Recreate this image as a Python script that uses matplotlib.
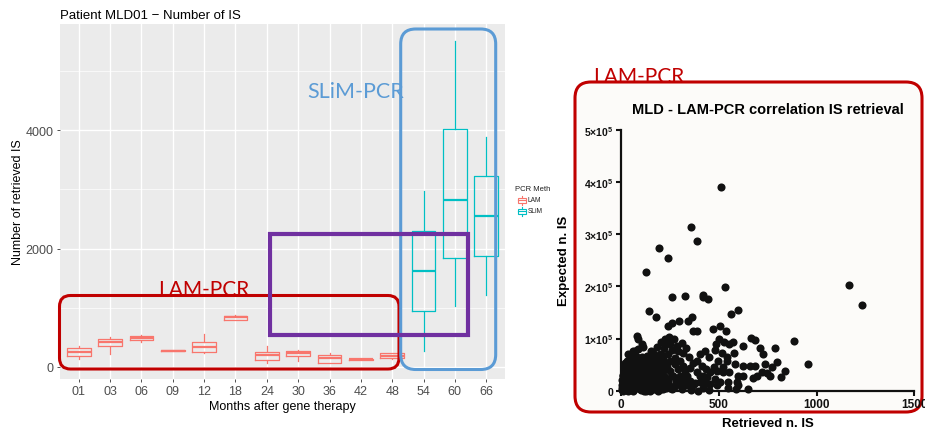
import matplotlib
matplotlib.use("Agg")
import matplotlib.pyplot as plt
from matplotlib.patches import FancyBboxPatch, Rectangle
from matplotlib.lines import Line2D

# ---- left panel: number of IS per time point ----
months = ["01", "03", "06", "09", "12", "18", "24", "30", "36", "42", "48", "54", "60", "66"]
method = ["LAM"] * 11 + ["SLiM"] * 3
q1 = [190, 350, 450, 270, 258, 799, 118, 180, 73, 125, 147, 941, 1846, 1880]
med = [258, 417, 485, 276, 332, 839, 203, 236, 147, 130, 191, 1627, 2821, 2555]
q3 = [316, 468, 523, 282, 417, 866, 258, 276, 203, 135, 231, 2302, 4020, 3221]
whislo = [135, 220, 428, 270, 231, 790, 68, 96, 73, 125, 140, 276, 1025, 1216]
whishi = [360, 512, 545, 282, 557, 870, 360, 292, 236, 135, 235, 2967, 5506, 3885]
method_colors = {"LAM": "#F8766D", "SLiM": "#00BFC4"}

# ---- right panel: retrieved vs expected IS (LAM-PCR) ----
retrieved = [
    510, 357, 387, 194, 242, 128, 532, 1165, 1235, 142, 177, 261, 329, 421, 418, 444,
    565, 597, 363, 343, 295, 239, 263, 508, 469, 537, 370, 389, 885, 954, 665, 684,
    787, 711, 728, 841, 817, 800, 771, 737, 720, 684, 677, 648, 626, 592, 597, 624,
    582, 578, 572, 551, 527, 503, 485, 480, 498, 517, 541, 554, 520, 507, 481, 548,
    478, 449, 430, 404, 391, 413, 435, 421, 430, 404, 379, 353, 336, 353, 370, 346,
    319, 332, 311, 285, 271, 247, 234, 220, 200, 155, 157, 183, 217, 251, 276, 293,
    302, 281, 259, 234, 208, 186, 165, 200, 234, 268, 310, 302, 336, 370, 455, 490,
    548, 589, 600, 694, 746, 763, 524, 541, 626, 660,
    12, 20, 29, 38, 12, 46, 38, 55, 43, 63, 72, 80, 89, 97, 114, 123,
    106, 94, 80, 89, 80, 89, 72, 60, 111, 106, 131, 148, 140, 157, 131, 148,
    140, 165, 183, 174, 191, 174, 200, 217, 225, 208, 242, 251, 217, 191, 148, 63,
    80, 58, 29, 20, 38, 55, 63, 118, 128, 114, 101, 63, 46, 32, 15, 12,
    7, 26, 51, 72, 128, 165, 186, 208, 225, 242, 259, 251, 225, 203, 186, 165,
    276, 293, 302, 319, 328, 387, 404, 438, 455, 490, 251, 268, 208, 157,
    450, 420, 360, 395, 120, 100, 60, 30, 5, 5, 8, 3, 95, 110, 70, 50,
    25, 140, 160, 175, 90, 105, 65, 45, 20, 35, 115, 135, 150, 85,
    10, 18, 28, 40, 52, 66, 78, 92, 104, 118, 130, 145, 158, 172, 188, 205,
    15, 24, 36, 48, 58, 70, 84, 98, 112, 126, 138, 152, 168, 182, 196, 214,
    22, 34, 44, 56, 68, 82, 96, 108, 122, 136, 232, 248, 262, 278, 288, 320,
]
expected = [
    390000, 314000, 286000, 273000, 255000, 228000, 198000, 203000, 164000, 153000, 141000, 179000, 181000, 184000, 180000, 175000,
    146000, 154000, 141000, 133000, 133000, 124000, 130000, 124000, 118000, 115000, 115000, 115000, 95000, 51000, 101000, 97000,
    82000, 81000, 70000, 38000, 27000, 55000, 45000, 51000, 35000, 48000, 24000, 3000, 28000, 16000, 29000, 85000,
    51000, 72000, 94000, 89000, 94000, 99000, 89000, 78000, 57000, 73000, 64000, 35000, 35000, 16000, 22000, 16000,
    46000, 65000, 77000, 70000, 57000, 48000, 41000, 29000, 15000, 16000, 15000, 19000, 29000, 43000, 54000, 64000,
    72000, 81000, 91000, 86000, 99000, 102000, 91000, 82000, 71000, 77000, 48000, 57000, 61000, 57000, 51000, 41000,
    29000, 19000, 29000, 45000, 35000, 26000, 16000, 10000, 13000, 6000, 3000, 13000, 10000, 10000, 13000, 10000,
    6000, 3000, 10000, 29000, 34000, 29000, 45000, 56000, 48000, 47000,
    30000, 16000, 6000, 0, 0, 10000, 22000, 32000, 51000, 54000, 41000, 26000, 13000, 3000, 6000, 19000,
    35000, 48000, 64000, 80000, 105000, 99000, 77000, 67000, 83000, 64000, 67000, 57000, 45000, 35000, 29000, 19000,
    10000, 4000, 13000, 26000, 41000, 51000, 48000, 38000, 26000, 19000, 19000, 6000, 3000, 0, 0, 0,
    19000, 19000, 38000, 54000, 70000, 61000, 77000, 54000, 41000, 29000, 19000, 26000, 41000, 57000, 47000, 16000,
    6000, 26000, 16000, 6000, 0, 41000, 64000, 68000, 54000, 70000, 78000, 89000, 99000, 93000, 83000, 72000,
    62000, 77000, 57000, 48000, 38000, 35000, 29000, 26000, 35000, 38000, 38000, 29000, 57000, 64000,
    2000, 5000, 2000, 0, 0, 2000, 2000, 2000, 2000, 10000, 28000, 20000, 45000, 30000, 48000, 40000,
    25000, 10000, 5000, 35000, 60000, 90000, 3000, 8000, 40000, 12000, 20000, 48000, 38000, 15000,
    8000, 12000, 4000, 14000, 7000, 11000, 5000, 9000, 12000, 3000, 9000, 6000, 11000, 4000, 8000, 3000,
    22000, 31000, 26000, 37000, 24000, 33000, 22000, 28000, 35000, 24000, 31000, 22000, 27000, 33000, 21000, 25000,
    42000, 47000, 40000, 45000, 52000, 44000, 49000, 58000, 43000, 53000, 6000, 11000, 4000, 9000, 22000, 18000,
]

W, H = 925, 431


def px_axes(fig, x0, y0, x1, y1, **kw):
    # axes from pixel box (top-left origin)
    return fig.add_axes([x0 / W, 1 - y1 / H, (x1 - x0) / W, (y1 - y0) / H], **kw)


plt.rcParams["font.family"] = ["Liberation Sans", "DejaVu Sans"]
plt.rcParams["mathtext.fontset"] = "custom"
plt.rcParams["mathtext.rm"] = "Liberation Sans"
plt.rcParams["mathtext.bf"] = "Liberation Sans:bold"

fig = plt.figure(figsize=(W / 100, H / 100), dpi=100)
fig.patch.set_facecolor("white")

# background overlay (right panel frame)
bg = px_axes(fig, 0, 0, W, H, zorder=0)
bg.set_xlim(0, W)
bg.set_ylim(H, 0)
bg.axis("off")
bg.add_patch(FancyBboxPatch((575, 83), 347, 330, boxstyle="round,pad=0,rounding_size=16",
                            facecolor="#FCFBF9", edgecolor="#C00000", linewidth=2.2))

# ---- left boxplot ----
ax = px_axes(fig, 60, 25, 505, 380, zorder=1)
ax.set_facecolor("#EBEBEB")
for i in range(len(months)):
    st = dict(med=med[i], q1=q1[i], q3=q3[i], whislo=whislo[i], whishi=whishi[i], fliers=[])
    c = method_colors[method[i]]
    ax.bxp([st], positions=[i], widths=0.75, showcaps=False, showfliers=False,
           boxprops=dict(color=c, linewidth=0.9),
           whiskerprops=dict(color=c, linewidth=0.9),
           medianprops=dict(color=c, linewidth=1.6))
ax.set_xlim(-0.6, len(months) - 0.4)
ax.set_ylim(-203, 5794)
ax.set_xticks(range(len(months)))
ax.set_xticklabels(months)
ax.set_yticks([0, 2000, 4000])
ax.set_yticks([1000, 3000, 5000], minor=True)
ax.grid(True, which="major", color="white", linewidth=1.0)
ax.grid(True, which="minor", axis="y", color="white", linewidth=0.5)
ax.set_axisbelow(True)
for s in ax.spines.values():
    s.set_visible(False)
ax.tick_params(axis="both", which="major", colors="#333333", length=2.5, width=0.6,
               labelsize=9, labelcolor="#4D4D4D", pad=2)
ax.tick_params(axis="y", which="minor", length=0)
ax.set_xlabel("Months after gene therapy", fontsize=9, labelpad=2)
ax.set_ylabel("Number of retrieved IS", fontsize=9, labelpad=1)
ax.set_title("Patient MLD01 \u2212 Number of IS", fontsize=9.5, loc="left", pad=4)

# ---- right scatter ----
ax2 = px_axes(fig, 621, 130.7, 914.3, 391.7, zorder=1)
ax2.patch.set_alpha(0)
ax2.scatter(retrieved, expected, s=34, color="#111111", linewidths=0, clip_on=False, zorder=3)
ax2.set_xlim(0, 1500)
ax2.set_ylim(0, 500000)
ax2.set_xticks([0, 500, 1000, 1500])
ax2.set_yticks([0, 100000, 200000, 300000, 400000, 500000])
ax2.set_yticklabels(["0"] + [r"$\mathbf{%d{\times}10^{5}}$" % k for k in range(1, 6)])
for side in ("top", "right"):
    ax2.spines[side].set_visible(False)
for side in ("left", "bottom"):
    ax2.spines[side].set_linewidth(1.6)
    ax2.spines[side].set_color("#111111")
ax2.tick_params(axis="both", length=3.5, width=1.5, colors="#111111", pad=2)
for lab in ax2.get_xticklabels():
    lab.set_fontweight("bold")
    lab.set_fontsize(8.5)
for lab in ax2.get_yticklabels():
    lab.set_fontweight("bold")
    lab.set_fontsize(7.5)
ax2.set_xlabel("Retrieved n. IS", fontsize=9.5, fontweight="bold", labelpad=5)
ax2.set_ylabel("Expected n. IS", fontsize=9.5, fontweight="bold", labelpad=10)
ax2.set_title("MLD - LAM-PCR correlation IS retrieval", fontsize=10.5, fontweight="bold", pad=12)

# ---- foreground overlay: highlight boxes, labels, legend ----
fg = px_axes(fig, 0, 0, W, H, zorder=10)
fg.patch.set_alpha(0)
fg.set_xlim(0, W)
fg.set_ylim(H, 0)
fg.axis("off")
fg.add_patch(FancyBboxPatch((59.5, 296.5), 339.5, 73.5, boxstyle="round,pad=0,rounding_size=11",
                            facecolor="none", edgecolor="#C00000", linewidth=2.2))
fg.add_patch(FancyBboxPatch((400.7, 30), 95, 340.5, boxstyle="round,pad=0,rounding_size=15",
                            facecolor="none", edgecolor="#5B9BD5", linewidth=2.2))
fg.add_patch(Rectangle((269.5, 234.5), 198, 101.5, facecolor="none", edgecolor="#7030A0", linewidth=3.0))
ann_font = ["Lato", "DejaVu Sans"]
fg.text(204, 296, "LAM-PCR", color="#C00000", fontsize=15, family=ann_font, ha="center", va="baseline")
fg.text(356, 98, "SLiM-PCR", color="#5B9BD5", fontsize=15.5, family=ann_font, ha="center", va="baseline")
fg.text(639, 83, "LAM-PCR", color="#C00000", fontsize=15, family=ann_font, ha="center", va="baseline")

# legend drawn by hand (ggplot style)
fg.text(515, 190, "PCR Meth", fontsize=5.5, color="#222222", va="center")
for j, (name, col) in enumerate(method_colors.items()):
    yc = 201 + j * 11
    fg.add_patch(Rectangle((517.5, yc - 2.5), 8, 5, facecolor="none", edgecolor=col, linewidth=0.8))
    fg.add_line(Line2D([517.5, 525.5], [yc, yc], color=col, linewidth=0.8))
    fg.add_line(Line2D([521.5, 521.5], [yc - 4.5, yc - 2.5], color=col, linewidth=0.8))
    fg.add_line(Line2D([521.5, 521.5], [yc + 2.5, yc + 4.5], color=col, linewidth=0.8))
    fg.text(528, yc, name, fontsize=4.8, color="#222222", va="center")

fig.savefig("out.png", dpi=100)
